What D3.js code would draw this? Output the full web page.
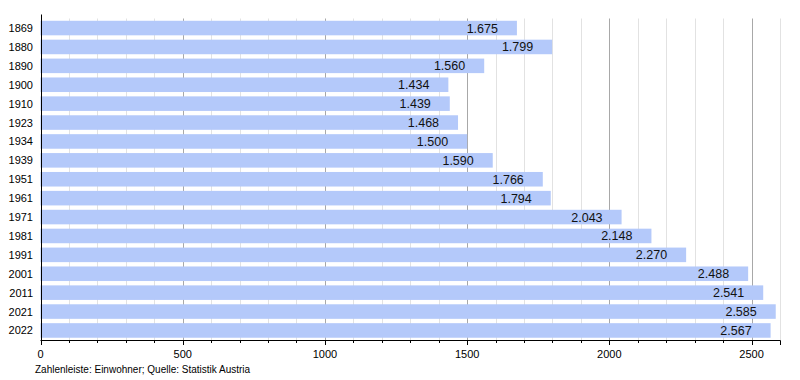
<!DOCTYPE html>
<html>
<head>
<meta charset="utf-8">
<script src="https://cdn.jsdelivr.net/npm/d3@7"></script>
<style>
  body { margin: 0; background: #fff; }
  svg { display: block; font-family: "Liberation Sans", Arial, sans-serif; }
</style>
</head>
<body>
<div id="chart"></div>
<script>
// Einwohnerentwicklung
const years = ["1869", "1880", "1890", "1900", "1910", "1923", "1934", "1939", "1951", "1961",
  "1971", "1981", "1991", "2001", "2011", "2021", "2022"];
const population = [1675, 1799, 1560, 1434, 1439, 1468, 1500, 1590, 1766, 1794,
  2043, 2148, 2270, 2488, 2541, 2585, 2567];
const majorTicks = [0, 500, 1000, 1500, 2000, 2500];
const caption = "Zahlenleiste: Einwohner; Quelle: Statistik Austria";

const width = 800, height = 380;
const margin = { top: 18.5, right: 20, bottom: 40, left: 40.5 };

const svg = d3.select("#chart")
  .append("svg")
  .attr("width", width)
  .attr("height", height);

const x = d3.scaleLinear()
  .domain([0, 2600])
  .range([margin.left, width - margin.right]);

const y = d3.scaleBand()
  .domain(years)
  .range([margin.top, height - margin.bottom])
  .paddingInner(0.23)
  .paddingOuter(0.12);

// German number format: 1.675
const fmt = d3.formatLocale({ decimal: ",", thousands: ".", grouping: [3], currency: ["", " €"] }).format(",d");

// Grid lines (minor every 100, major every 500)
const minor = d3.range(100, 2601, 100).filter(v => v % 500 !== 0);
svg.append("g")
  .selectAll("line")
  .data(minor)
  .join("line")
  .attr("x1", d => Math.round(x(d)) + 0.5)
  .attr("x2", d => Math.round(x(d)) + 0.5)
  .attr("y1", margin.top)
  .attr("y2", height - margin.bottom)
  .attr("stroke", "#e2e2e2");

svg.append("g")
  .selectAll("line")
  .data(majorTicks.slice(1))
  .join("line")
  .attr("x1", d => Math.round(x(d)) + 0.5)
  .attr("x2", d => Math.round(x(d)) + 0.5)
  .attr("y1", margin.top)
  .attr("y2", height - margin.bottom)
  .attr("stroke", "#a8a8a8");

// Bars
svg.append("g")
  .selectAll("rect")
  .data(years)
  .join("rect")
  .attr("x", x(0))
  .attr("y", d => y(d))
  .attr("width", (d, i) => x(population[i]) - x(0))
  .attr("height", y.bandwidth())
  .attr("fill", "#b4c9fa");

// Value labels
svg.append("g")
  .attr("text-anchor", "end")
  .style("font-size", "12.5px")
  .selectAll("text")
  .data(years)
  .join("text")
  .attr("x", (d, i) => x(population[i]) - 19)
  .attr("y", d => y(d) + y.bandwidth() / 2)
  .attr("dy", "0.36em")
  .attr("fill", "#111")
  .text((d, i) => fmt(population[i]));

// Y axis labels
svg.append("g")
  .attr("text-anchor", "end")
  .style("font-size", "11px")
  .selectAll("text")
  .data(years)
  .join("text")
  .attr("x", 33)
  .attr("y", d => y(d) + y.bandwidth() / 2)
  .attr("dy", "0.36em")
  .attr("fill", "#000")
  .text(d => d);

// Y axis line
svg.append("line")
  .attr("x1", Math.round(x(0)) + 0.5)
  .attr("x2", Math.round(x(0)) + 0.5)
  .attr("y1", margin.top - 4)
  .attr("y2", height - margin.bottom + 1)
  .attr("stroke", "#000");

// X axis
const xAxis = svg.append("g")
  .attr("transform", `translate(0,${height - margin.bottom + 0.5})`);

xAxis.append("line")
  .attr("x1", x(0))
  .attr("x2", x(2600))
  .attr("stroke", "#000");

xAxis.selectAll("line.minor")
  .data(minor)
  .join("line")
  .attr("class", "minor")
  .attr("x1", d => Math.round(x(d)) + 0.5)
  .attr("x2", d => Math.round(x(d)) + 0.5)
  .attr("y1", 0)
  .attr("y2", 2.5)
  .attr("stroke", "#000");

xAxis.selectAll("line.major")
  .data(majorTicks)
  .join("line")
  .attr("class", "major")
  .attr("x1", d => Math.round(x(d)) + 0.5)
  .attr("x2", d => Math.round(x(d)) + 0.5)
  .attr("y1", 0)
  .attr("y2", 4.5)
  .attr("stroke", "#000");

xAxis.append("line")
  .attr("x1", Math.round(x(2600)) + 0.5)
  .attr("x2", Math.round(x(2600)) + 0.5)
  .attr("y1", 0)
  .attr("y2", 4.5)
  .attr("stroke", "#000");

xAxis.selectAll("text")
  .data(majorTicks)
  .join("text")
  .attr("x", d => x(d))
  .attr("y", 17)
  .attr("text-anchor", "middle")
  .style("font-size", "11px")
  .attr("fill", "#000")
  .text(d => d);

// Caption
svg.append("text")
  .attr("x", 35)
  .attr("y", 373)
  .style("font-size", "10px")
  .attr("fill", "#000")
  .text(caption);
</script>
</body>
</html>
